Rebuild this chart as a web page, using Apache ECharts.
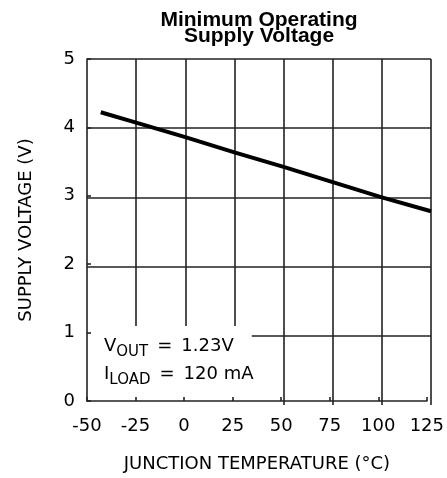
<!DOCTYPE html>
<html><head><meta charset="utf-8">
<script src="https://cdn.jsdelivr.net/npm/echarts@6/dist/echarts.min.js"></script>
<style>html,body{margin:0;padding:0;background:#fff}#c{width:447px;height:478px}</style>
</head><body><div id="c"></div>
<script>
const titleText = 'Minimum Operating\nSupply Voltage';
const xName = 'JUNCTION TEMPERATURE (°C)';
const yName = 'SUPPLY VOLTAGE (V)';
const temps = [-43, -25, 0, 25, 50, 75, 100, 125];
const volts = [4.23, 4.08, 3.87, 3.65, 3.44, 3.22, 3.00, 2.80];
const xMin = -50, xMax = 125, xStep = 25;
const yMin = 0, yMax = 5, yStep = 1;
const boxX = [-50, 33.8];
const boxY = [0, 1.14];

const F = 'DejaVu Sans';
const lab = {fontFamily: F, fontSize: 18, color: '#000'};
const chart = echarts.init(document.getElementById('c'));
const gridPos = {left: 87, right: 16, top: 59, bottom: 73};
chart.setOption({
  animation: false,
  title: {text: titleText, left: 254, textAlign: 'center', top: 7,
    textStyle: {fontFamily: 'Liberation Sans', fontWeight: 'bold', fontSize: 21, lineHeight: 16, color: '#000'}},
  grid: [Object.assign({}, gridPos), Object.assign({z: 10}, gridPos)],
  xAxis: [
    {gridIndex: 0, type: 'value', min: xMin, max: xMax, interval: xStep,
     axisLine: {show: false}, axisTick: {show: false}, axisLabel: {show: false},
     splitLine: {show: true, showMinLine: false, lineStyle: {color: '#222', width: 1.6}}},
    {gridIndex: 1, type: 'value', min: xMin, max: xMax, interval: xStep, z: 10,
     axisLine: {show: true, onZero: false, lineStyle: {color: '#222', width: 1.6}},
     axisTick: {show: true, inside: true, length: 4, lineStyle: {color: '#222', width: 1.6}},
     axisLabel: Object.assign({margin: 16}, lab),
     splitLine: {show: false},
     name: xName, nameLocation: 'middle', nameGap: 54,
     nameTextStyle: {fontFamily: F, fontSize: 18, color: '#000'}}
  ],
  yAxis: [
    {gridIndex: 0, type: 'value', min: yMin, max: yMax, interval: yStep,
     axisLine: {show: false}, axisTick: {show: false}, axisLabel: {show: false},
     splitLine: {show: true, showMinLine: false, lineStyle: {color: '#222', width: 1.6}}},
    {gridIndex: 1, type: 'value', min: yMin, max: yMax, interval: yStep, z: 10,
     axisLine: {show: true, onZero: false, lineStyle: {color: '#222', width: 1.6}},
     axisTick: {show: true, inside: true, length: 4, lineStyle: {color: '#222', width: 1.6}},
     axisLabel: Object.assign({margin: 12}, lab),
     splitLine: {show: false},
     name: yName, nameLocation: 'middle', nameGap: 52, nameRotate: 90,
     nameTextStyle: {fontFamily: F, fontSize: 18, color: '#000'}}
  ],
  series: [{
    type: 'line', xAxisIndex: 0, yAxisIndex: 0,
    data: temps.map((t, i) => [t, volts[i]]),
    symbol: 'none', lineStyle: {color: '#000', width: 4},
    markArea: {
      silent: true,
      itemStyle: {color: '#fff', opacity: 1},
      label: {
        show: true, position: [17, 6], align: 'left', verticalAlign: 'top',
        formatter: '{a|V}{s|OUT}{a|\u2002=\u20021.23V}\n{a|I}{s|LOAD}{a|\u2002=\u2002120 mA}',
        rich: {
          a: {fontFamily: F, fontSize: 18, color: '#000', lineHeight: 28},
          s: {fontFamily: F, fontSize: 15, color: '#000', lineHeight: 28, padding: [11, 0, 0, 0]}
        }
      },
      data: [[{coord: [boxX[0], boxY[1]]}, {coord: [boxX[1], boxY[0]]}]]
    }
  }]
});
</script></body></html>
